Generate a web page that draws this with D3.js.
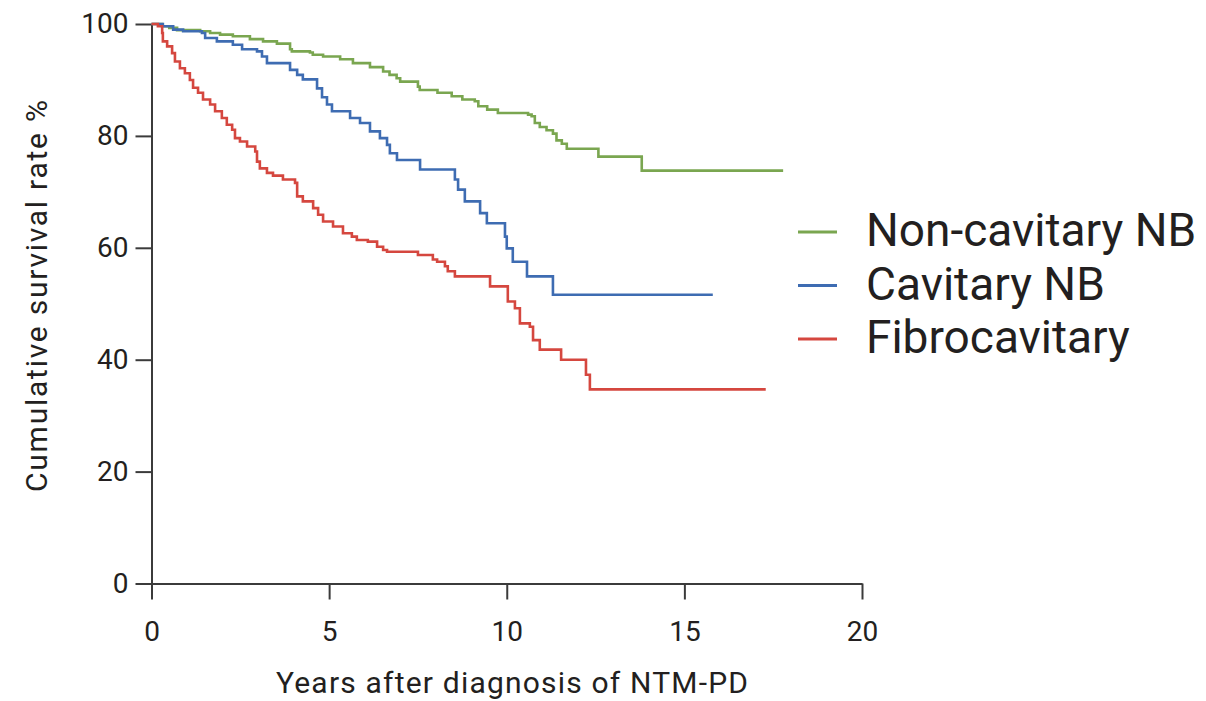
<!DOCTYPE html>
<html>
<head>
<meta charset="utf-8">
<script src="https://cdn.jsdelivr.net/npm/d3@7"></script>
<style>
  html, body { margin: 0; padding: 0; background: #fff; }
  svg { display: block; }
  text { font-family: Roboto, "Noto Sans", sans-serif; fill: #231f20; }
</style>
</head>
<body>
<svg id="chart" width="1206" height="701"></svg>
<script>
// Kaplan–Meier survival by radiographic type: [years, survival %] after each step
const nonCavitary = [
  [0, 100], [0.3, 99.6], [0.5, 99.3], [0.72, 98.9], [1.37, 98.7], [1.65, 98.4],
  [1.93, 98.1], [2.29, 97.8], [2.77, 97.3], [3.14, 96.9], [3.53, 96.5], [3.9, 95.5],
  [3.95, 95.1], [4.46, 94.9], [4.54, 94.5], [4.83, 94.2], [5.31, 93.7], [5.67, 93.0],
  [6.15, 92.3], [6.52, 91.5], [6.7, 90.9], [6.9, 90.3], [7.0, 89.7], [7.5, 88.8],
  [7.55, 88.2], [8.05, 87.7], [8.45, 87.1], [8.75, 86.5], [9.1, 86.2], [9.2, 85.3],
  [9.45, 84.7], [9.75, 84.1], [10.6, 83.8], [10.7, 83.5], [10.79, 82.3], [10.93, 81.6],
  [11.12, 81.0], [11.3, 80.4], [11.4, 79.2], [11.55, 78.6], [11.69, 77.7], [12.58, 76.3],
  [13.8, 73.8], [17.78, 73.8]
];
const cavitary = [
  [0, 100], [0.32, 99.6], [0.61, 99.0], [0.89, 98.7], [1.42, 98.4], [1.51, 97.5],
  [1.84, 96.9], [2.29, 96.3], [2.55, 95.5], [2.97, 95.1], [3.11, 94.2], [3.25, 93.0],
  [3.9, 91.8], [4.1, 90.9], [4.26, 90.1], [4.66, 88.5], [4.8, 86.9], [4.94, 85.6],
  [5.08, 84.4], [5.59, 83.2], [5.87, 82.3], [6.15, 80.8], [6.43, 79.6], [6.63, 78.4],
  [6.71, 76.9], [6.91, 75.7], [7.56, 74.0], [8.54, 72.2], [8.63, 70.4], [8.82, 68.3],
  [9.25, 66.2], [9.44, 64.4], [9.95, 62.0], [10.0, 59.9], [10.17, 57.5], [10.57, 54.9],
  [11.3, 51.6], [15.8, 51.6]
];
const fibrocavitary = [
  [0, 100], [0.18, 99.6], [0.3, 98.4], [0.32, 96.9], [0.44, 96.0], [0.58, 94.8],
  [0.66, 93.3], [0.8, 92.1], [0.94, 91.2], [1.08, 90.0], [1.17, 88.6], [1.31, 87.7],
  [1.45, 86.5], [1.65, 85.6], [1.79, 84.4], [1.98, 83.2], [2.12, 82.0], [2.27, 81.1],
  [2.35, 79.6], [2.49, 79.0], [2.69, 78.1], [2.92, 77.2], [2.97, 75.4], [3.05, 74.2],
  [3.25, 73.4], [3.42, 72.9], [3.7, 72.2], [4.04, 71.6], [4.1, 69.2], [4.26, 68.3],
  [4.55, 67.1], [4.69, 65.9], [4.83, 64.7], [5.11, 63.8], [5.39, 62.6], [5.64, 62.0],
  [5.78, 61.4], [6.09, 61.1], [6.35, 60.2], [6.52, 59.6], [6.63, 59.3], [7.5, 58.7],
  [7.92, 57.9], [8.04, 57.5], [8.26, 56.7], [8.34, 55.8], [8.54, 54.9], [9.53, 53.1],
  [10.03, 50.4], [10.23, 49.2], [10.37, 46.5], [10.65, 45.9], [10.74, 43.5], [10.93, 41.8],
  [11.53, 40.0], [12.23, 37.3], [12.34, 34.7], [17.29, 34.7]
];

const seriesNames = ["Non-cavitary NB", "Cavitary NB", "Fibrocavitary"];
const seriesData = [nonCavitary, cavitary, fibrocavitary];
const seriesColors = ["#7aa650", "#3e6cb2", "#d5473f"];

const xTicks = [0, 5, 10, 15, 20];
const yTicks = [0, 20, 40, 60, 80, 100];
const xTitle = "Years after diagnosis of NTM-PD";
const yTitle = "Cumulative survival rate %";

const svg = d3.select("#chart");
const x = d3.scaleLinear().domain([0, 20]).range([151.5, 862]);
const y = d3.scaleLinear().domain([0, 100]).range([583.5, 24]);
const axisColor = "#3b3b3b";

// axes
const gx = svg.append("g").attr("transform", `translate(0,${y(0)})`)
  .call(d3.axisBottom(x).tickValues(xTicks).tickSize(16).tickSizeOuter(0).tickPadding(22));
const gy = svg.append("g").attr("transform", `translate(${x(0)},0)`)
  .call(d3.axisLeft(y).tickValues(yTicks).tickSize(16).tickSizeOuter(0).tickPadding(7));
[gx, gy].forEach(g => {
  g.select(".domain").attr("stroke", axisColor).attr("stroke-width", 2);
  g.selectAll(".tick line").attr("stroke", axisColor).attr("stroke-width", 2);
  g.selectAll(".tick text").attr("font-family", "Roboto, sans-serif")
    .attr("font-size", 28).attr("fill", "#231f20");
});

// axis titles
svg.append("text").attr("x", 512).attr("y", 693)
  .attr("text-anchor", "middle").attr("font-size", 30)
  .attr("textLength", 472).attr("lengthAdjust", "spacing").text(xTitle);
svg.append("text").attr("transform", "translate(47,296) rotate(-90)")
  .attr("text-anchor", "middle").attr("font-size", 30)
  .attr("textLength", 392).attr("lengthAdjust", "spacing").text(yTitle);

// survival curves
const line = d3.line().x(d => x(d[0])).y(d => y(d[1])).curve(d3.curveStepAfter);
seriesData.forEach((data, i) => {
  svg.append("path").datum(data).attr("d", line)
    .attr("fill", "none").attr("stroke", seriesColors[i])
    .attr("stroke-width", 2.6).attr("stroke-linejoin", "miter");
});

// legend
const legend = svg.append("g");
seriesNames.forEach((name, i) => {
  const cy = 232 + i * 53.5;
  legend.append("line").attr("x1", 798).attr("x2", 837).attr("y1", cy).attr("y2", cy)
    .attr("stroke", seriesColors[i]).attr("stroke-width", 3);
  legend.append("text").attr("x", 866).attr("y", cy + 14)
    .attr("font-size", 46).text(name);
});
</script>
</body>
</html>
